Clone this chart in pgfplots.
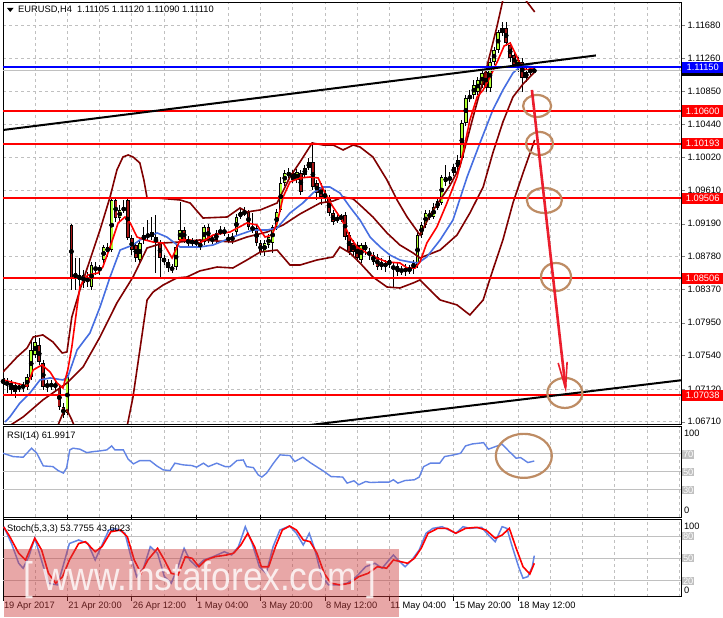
\documentclass[border=0pt]{standalone}
\usepackage{fontspec}
\setmainfont{Liberation Sans}
\usepackage{pgfplots}
\pgfplotsset{compat=1.18}
\usepackage{pgfplotstable}
\usetikzlibrary{arrows.meta}
\definecolor{bullc}{RGB}{173,255,47}
\definecolor{bearc}{RGB}{165,20,20}
\definecolor{mablue}{RGB}{70,110,225}
\definecolor{bbred}{RGB}{128,0,0}
\definecolor{gridc}{RGB}{192,192,192}
\definecolor{annot}{RGB}{190,140,100}
\definecolor{arrowred}{RGB}{235,30,45}
\definecolor{wmred}{RGB}{205,60,60}
\newcommand{\lblfont}{\fontsize{9.3}{10}\selectfont}

\pgfplotstableread{
i o h l c
0 1.07257 1.07294 1.07106 1.07169
1 1.07194 1.07257 1.07069 1.07181
2 1.07194 1.07232 1.07044 1.07106
3 1.07169 1.07206 1.07006 1.07081
4 1.07144 1.07194 1.07081 1.07131
5 1.07131 1.07206 1.07081 1.07169
6 1.07144 1.07307 1.07106 1.07269
7 1.07269 1.07733 1.07232 1.07607
8 1.07545 1.07795 1.07507 1.07708
9 1.07670 1.07758 1.07419 1.07457
10 1.07445 1.07482 1.07106 1.07144
11 1.07169 1.07232 1.07081 1.07156
12 1.07156 1.07232 1.07106 1.07181
13 1.07181 1.07232 1.07094 1.07144
14 1.07131 1.07169 1.06856 1.06893
15 1.06893 1.06943 1.06755 1.06793
16 1.06818 1.07294 1.06793 1.07269
17 1.09174 1.09186 1.08359 1.08510
18 1.08572 1.08760 1.08359 1.08510
19 1.08485 1.08760 1.08322 1.08547
20 1.08547 1.08610 1.08384 1.08447
21 1.08510 1.08585 1.08397 1.08459
22 1.08397 1.08710 1.08359 1.08672
23 1.08647 1.08710 1.08547 1.08610
24 1.08635 1.08672 1.08547 1.08610
25 1.08735 1.08923 1.08698 1.08898
26 1.08898 1.08948 1.08773 1.08835
27 1.08860 1.09512 1.08835 1.09487
28 1.09487 1.09512 1.09211 1.09261
29 1.09261 1.09424 1.09211 1.09362
30 1.09387 1.09487 1.09324 1.09362
31 1.09487 1.09525 1.08986 1.09011
32 1.09011 1.09048 1.08798 1.08860
33 1.08923 1.08961 1.08710 1.08760
34 1.08735 1.08986 1.08698 1.08948
35 1.08986 1.09149 1.08936 1.09048
36 1.09048 1.09236 1.08986 1.09036
37 1.09023 1.09274 1.08986 1.09086
38 1.09023 1.09299 1.08572 1.08948
39 1.08948 1.08986 1.08522 1.08760
40 1.08760 1.08798 1.08672 1.08710
41 1.08710 1.08748 1.08585 1.08635
42 1.08610 1.08685 1.08572 1.08647
43 1.08647 1.08923 1.08610 1.08898
44 1.08986 1.09462 1.08961 1.09111
45 1.09111 1.09149 1.08948 1.08986
46 1.08986 1.09036 1.08911 1.08948
47 1.08973 1.09011 1.08911 1.08948
48 1.08948 1.08998 1.08898 1.08961
49 1.08948 1.08986 1.08860 1.08898
50 1.08961 1.09174 1.08923 1.09149
51 1.09149 1.09186 1.08948 1.08986
52 1.08986 1.09036 1.08936 1.08998
53 1.08986 1.09111 1.08948 1.09074
54 1.09074 1.09161 1.09048 1.09111
55 1.09111 1.09149 1.09036 1.09074
56 1.09011 1.09061 1.08948 1.08986
57 1.08986 1.09074 1.08936 1.09023
58 1.09086 1.09312 1.09048 1.09274
59 1.09274 1.09374 1.09249 1.09337
60 1.09337 1.09399 1.09287 1.09324
61 1.09337 1.09362 1.09111 1.09149
62 1.09149 1.09324 1.09074 1.09111
63 1.09136 1.09174 1.08911 1.08948
64 1.08948 1.08986 1.08798 1.08835
65 1.08835 1.08986 1.08785 1.08948
66 1.08923 1.09061 1.08886 1.09023
67 1.08948 1.09174 1.08823 1.09149
68 1.09149 1.09374 1.09111 1.09337
69 1.09362 1.09775 1.09337 1.09700
70 1.09700 1.09863 1.09662 1.09825
71 1.09825 1.09888 1.09763 1.09800
72 1.09825 1.09863 1.09700 1.09738
73 1.09738 1.09875 1.09700 1.09838
74 1.09825 1.09863 1.09550 1.09587
75 1.09800 1.09925 1.09763 1.09888
76 1.09888 1.10013 1.09863 1.09963
77 1.09963 1.10214 1.09612 1.09650
78 1.09700 1.09738 1.09487 1.09575
79 1.09650 1.09700 1.09424 1.09525
80 1.09550 1.09612 1.09449 1.09537
81 1.09512 1.09550 1.09287 1.09324
82 1.09324 1.09362 1.09174 1.09211
83 1.09261 1.09312 1.09199 1.09236
84 1.09261 1.09312 1.09211 1.09274
85 1.09299 1.09337 1.08986 1.09023
86 1.09048 1.09086 1.08798 1.08835
87 1.08948 1.08986 1.08785 1.08835
88 1.08923 1.08961 1.08710 1.08760
89 1.08735 1.08948 1.08698 1.08923
90 1.08923 1.08961 1.08798 1.08860
91 1.08835 1.08886 1.08735 1.08798
92 1.08710 1.08835 1.08672 1.08798
93 1.08773 1.08810 1.08610 1.08647
94 1.08647 1.08760 1.08610 1.08710
95 1.08698 1.08735 1.08585 1.08647
96 1.08672 1.08785 1.08635 1.08735
97 1.08647 1.08710 1.08384 1.08635
98 1.08660 1.08710 1.08535 1.08585
99 1.08610 1.08660 1.08547 1.08597
100 1.08585 1.08685 1.08535 1.08635
101 1.08622 1.08672 1.08560 1.08610
102 1.08635 1.08735 1.08560 1.08698
103 1.08672 1.09111 1.08635 1.09048
104 1.09048 1.09211 1.09011 1.09174
105 1.09174 1.09362 1.09136 1.09324
106 1.09312 1.09362 1.09236 1.09274
107 1.09274 1.09449 1.09249 1.09399
108 1.09387 1.09512 1.09362 1.09474
109 1.09449 1.09800 1.09424 1.09775
110 1.09775 1.09925 1.09662 1.09712
111 1.09750 1.09838 1.09687 1.09763
112 1.09825 1.09938 1.09788 1.09900
113 1.09900 1.10051 1.09863 1.09988
114 1.10013 1.10489 1.09988 1.10452
115 1.10452 1.10803 1.10414 1.10765
116 1.10765 1.10865 1.10715 1.10790
117 1.10803 1.10991 1.10753 1.10928
118 1.10840 1.11028 1.10803 1.10991
119 1.10928 1.11116 1.10890 1.11078
120 1.11091 1.11141 1.10840 1.10890
121 1.10890 1.11266 1.10840 1.11216
122 1.11216 1.11404 1.11178 1.11366
123 1.11366 1.11617 1.11329 1.11592
124 1.11580 1.11717 1.11542 1.11642
125 1.11642 1.11717 1.11417 1.11454
126 1.11429 1.11467 1.11216 1.11266
127 1.11304 1.11341 1.11141 1.11178
128 1.11141 1.11279 1.11091 1.11241
129 1.11216 1.11266 1.10840 1.11016
130 1.11016 1.11141 1.10965 1.11091
131 1.11091 1.11153 1.11053 1.11116
132 1.11105 1.11120 1.11090 1.11110
}\candles

\pgfplotsset{
  mtbase/.style={
    scale only axis, width=678pt, anchor=south west,
    xmin=0, xmax=168.45,
    xtick={8,16,...,168}, xticklabels={}, xtick style={draw=none},
    axis line style={black, line width=0.9pt},
    grid style={gridc, line width=0.7pt, dash pattern=on 3pt off 3pt},
    tick label style={font=\lblfont},
    clip=true,
  },
  candlebar/.style={only marks, mark=none, forget plot,
    error bars/y dir=both, error bars/y explicit, error bars/error mark=none},
}

\begin{document}
\begin{tikzpicture}[x=1pt,y=1pt]
\path[use as bounding box] (0,0) rectangle (723,618);
\fill[white] (0,0) rectangle (723,618);

% ---------------- main price panel ----------------
\begin{axis}[mtbase, at={(3pt,194pt)}, height=422pt,
  ymin=1.06680, ymax=1.11968,
  xmajorgrids, ymajorgrids,
  ytick={1.06710,1.07120,1.07540,1.07950,1.08370,1.08780,1.09190,1.09610,1.10020,1.10440,1.10850,1.11260,1.11680},
  ytick pos=right, yticklabel pos=right, tick align=outside, major tick length=4pt,
  scaled y ticks=false,
  /pgf/number format/assume math mode=true,
  yticklabel style={/pgf/number format/fixed, /pgf/number format/fixed zerofill, /pgf/number format/precision=5, anchor=west, xshift=-1pt},
]
% wicks
\addplot[candlebar, error bars/error bar style={draw=black, line width=0.9pt}]
  table[x=i, y expr={(\thisrow{o}+\thisrow{c})/2},
        y error plus expr={\thisrow{h}-(\thisrow{o}+\thisrow{c})/2},
        y error minus expr={(\thisrow{o}+\thisrow{c})/2-\thisrow{l}}] {\candles};
% body outlines
\addplot[candlebar, error bars/error bar style={draw=black, line width=3.5pt}]
  table[x=i, y expr={(\thisrow{o}+\thisrow{c})/2},
        y error expr={max(abs(\thisrow{c}-\thisrow{o})/2,0.00007)}] {\candles};
% bull bodies
\addplot[candlebar, restrict expr to domain={\thisrow{c}-\thisrow{o}}{0:1},
  error bars/error bar style={draw=bullc, line width=1.8pt}]
  table[x=i, y expr={(\thisrow{o}+\thisrow{c})/2},
        y error expr={max(abs(\thisrow{c}-\thisrow{o})/2-0.00009,0)}] {\candles};
% bear bodies
\addplot[candlebar, restrict expr to domain={\thisrow{c}-\thisrow{o}}{-1:-0.000001},
  error bars/error bar style={draw=bearc, line width=1.8pt}]
  table[x=i, y expr={(\thisrow{o}+\thisrow{c})/2},
        y error expr={max(abs(\thisrow{c}-\thisrow{o})/2-0.00009,0)}] {\candles};

% Bollinger bands
\addplot[bbred, line width=1.6pt, mark=none] coordinates {(0,1.07332)(3.5,1.07520)(6,1.07633)(7.5,1.07770)(9.9,1.07796)(12.4,1.07708)(14.7,1.07570)(15.9,1.07583)(17.1,1.08021)(19.1,1.08359)(21.6,1.08735)(24.1,1.09111)(26.6,1.09525)(28.3,1.09863)(29.8,1.10026)(31.1,1.10051)(32.3,1.10026)(34,1.09951)(35,1.09738)(35.8,1.09512)(38.3,1.09512)(44,1.09487)(46.5,1.09449)(49.7,1.09261)(55.7,1.09274)(58.9,1.09387)(60.6,1.09337)(63.9,1.09362)(68.1,1.09449)(71.3,1.09775)(73.8,1.09963)(76.8,1.10201)(79.5,1.10176)(82,1.10176)(84.5,1.10114)(87,1.10176)(88.7,1.10151)(91.9,1.10026)(95.4,1.09738)(97.9,1.09487)(100.4,1.09274)(103.6,1.09048)(106.1,1.09299)(108.6,1.09487)(111.1,1.09675)(113.5,1.09901)(116.8,1.10527)(120.2,1.11153)(122.7,1.11655)(124.2,1.11993)(126,1.12181)(127.7,1.12181)(128.9,1.12056)(130.2,1.11968)(132.1,1.11843)};
\addplot[bbred, line width=1.6pt, mark=none] coordinates {(0,1.06605)(5,1.06768)(9.9,1.06981)(15.9,1.07194)(19.9,1.07395)(24.1,1.07771)(28.3,1.08197)(32.3,1.08522)(34,1.08698)(35.8,1.08886)(39.8,1.08948)(44,1.08961)(48.9,1.08986)(57.1,1.08961)(60.6,1.09023)(65.6,1.09086)(69.6,1.09174)(73.8,1.09312)(78.8,1.09449)(82,1.09474)(84.5,1.09525)(87,1.09500)(88.7,1.09424)(91.9,1.09274)(95.4,1.09074)(98.6,1.08923)(101.9,1.08823)(103.6,1.08760)(108.6,1.08860)(112.8,1.09048)(116,1.09324)(119.3,1.09650)(121.7,1.10076)(124.2,1.10464)(126.7,1.10778)(129.2,1.10940)(132.1,1.11091)};
\addplot[bbred, line width=1.6pt, mark=none] coordinates {(0,1.05828)(6.7,1.06104)(11.7,1.06354)(13.7,1.06668)(14.9,1.06818)(15.9,1.06856)(17.1,1.06731)(19.1,1.06480)(24.1,1.06418)(29.1,1.06580)(30.8,1.06643)(32.3,1.07019)(34,1.07607)(35.8,1.08234)(37.3,1.08334)(39.8,1.08422)(43.2,1.08510)(45.7,1.08522)(48.9,1.08598)(53.2,1.08647)(57.1,1.08635)(60.6,1.08735)(63.9,1.08835)(68.1,1.08860)(71.3,1.08672)(73.8,1.08672)(78,1.08735)(82,1.08773)(83.7,1.08898)(86.2,1.08823)(88.7,1.08698)(91.9,1.08522)(95.4,1.08397)(98.6,1.08384)(101.9,1.08447)(103.6,1.08485)(108.6,1.08234)(112.8,1.08172)(116,1.08046)(119.3,1.08234)(121.7,1.08610)(124.2,1.08986)(126.7,1.09449)(129.2,1.09825)(132.1,1.10239)};
% slow MA (blue)
\addplot[mablue, line width=1.6pt, mark=none] coordinates {(0.5,1.06705)(1.7,1.06768)(4.2,1.06943)(6.7,1.07069)(9.2,1.07232)(11.7,1.07257)(14.9,1.07232)(16.1,1.07269)(18.4,1.07607)(21.6,1.07821)(24.1,1.08146)(26.6,1.08522)(29.1,1.08860)(32.3,1.08923)(34,1.08986)(38.3,1.09074)(40.7,1.09023)(44,1.08898)(48.9,1.08898)(52.2,1.08923)(57.1,1.09023)(62.1,1.09111)(65.6,1.09111)(68.1,1.09136)(71.3,1.09324)(74.5,1.09449)(77,1.09575)(79.3,1.09650)(81.2,1.09650)(83.7,1.09575)(86.2,1.09399)(88.7,1.09236)(91.2,1.09023)(93.7,1.08898)(96.1,1.08798)(98.6,1.08735)(101.1,1.08710)(103.1,1.08698)(105.3,1.08773)(108.6,1.08986)(111.8,1.09236)(115.3,1.09775)(118.5,1.10201)(121.7,1.10615)(124.2,1.10865)(126.7,1.11078)(128.4,1.11153)(130.2,1.11178)(131.7,1.11191)};
% fast MA (red)
\addplot[red, line width=1.6pt, mark=none] coordinates {(0,1.07232)(3,1.07194)(6,1.07156)(7.5,1.07357)(9.7,1.07420)(11.7,1.07332)(13.4,1.07194)(14.9,1.07131)(16.1,1.07357)(17.1,1.07645)(18.4,1.08146)(19.1,1.08397)(20.4,1.08510)(21.1,1.08547)(23.6,1.08572)(24.8,1.08647)(26.6,1.08898)(28.6,1.09199)(30.3,1.09274)(31.6,1.09199)(33.3,1.09023)(35.3,1.08986)(37.3,1.08961)(39.8,1.08948)(42,1.08760)(44,1.08986)(46.5,1.08986)(48.9,1.08948)(52.2,1.09048)(56.4,1.09086)(60.6,1.09199)(63.1,1.09174)(65.1,1.09023)(66.8,1.09048)(68.1,1.09199)(69.6,1.09525)(71.3,1.09713)(73.8,1.09763)(76.3,1.09775)(78.3,1.09763)(80,1.09575)(82,1.09399)(84.2,1.09236)(86.2,1.09023)(88,1.08898)(90.4,1.08823)(92.9,1.08760)(95.4,1.08710)(98.6,1.08698)(100.4,1.08635)(102.4,1.08635)(103.6,1.08710)(105.3,1.08948)(107.8,1.09149)(110.3,1.09449)(112.8,1.09775)(114.3,1.10076)(116,1.10490)(117.8,1.10778)(119.3,1.10865)(121,1.11028)(123,1.11241)(124.5,1.11417)(126,1.11454)(127.7,1.11279)(128.9,1.11141)(130.2,1.11116)(131.4,1.11141)(132,1.11116)};

% horizontal levels
\addplot[gridc, line width=1pt, mark=none] coordinates {(0,1.11110)(168.45,1.11110)};
\addplot[blue, line width=2pt, mark=none] coordinates {(0,1.11150)(168.45,1.11150)};
\addplot[red, line width=2pt, mark=none] coordinates {(0,1.10600)(168.45,1.10600)};
\addplot[red, line width=2pt, mark=none] coordinates {(0,1.10193)(168.45,1.10193)};
\addplot[red, line width=2pt, mark=none] coordinates {(0,1.09506)(168.45,1.09506)};
\addplot[red, line width=2pt, mark=none] coordinates {(0,1.08506)(168.45,1.08506)};
\addplot[red, line width=2pt, mark=none] coordinates {(0,1.07038)(168.45,1.07038)};
% trend lines
\addplot[black, line width=2pt, mark=none] coordinates {(0,1.10364)(147.3,1.11298)};
\addplot[black, line width=2pt, mark=none] coordinates {(70,1.06629)(168.45,1.07228)};

% annotations
\draw[annot, line width=2.2pt] (axis cs:132.7,1.10665) ellipse [x radius=14pt, y radius=11pt];
\draw[annot, line width=2.2pt] (axis cs:133.3,1.10195) ellipse [x radius=13.5pt, y radius=11.5pt];
\draw[annot, line width=2.2pt] (axis cs:134.5,1.09481) ellipse [x radius=17.5pt, y radius=12.5pt];
\draw[annot, line width=2.2pt] (axis cs:137.4,1.08522) ellipse [x radius=15pt, y radius=14pt];
\draw[annot, line width=2.2pt] (axis cs:139.6,1.07069) ellipse [x radius=17.5pt, y radius=15pt];
\draw[arrowred, line width=2.6pt, -{Straight Barb[length=26pt, width=9pt, line width=1.6pt]}] (axis cs:131.4,1.10866) -- (axis cs:139.9,1.07069);

\coordinate (pK) at (axis cs:168.45,1.11110);
\coordinate (pB) at (axis cs:168.45,1.11150);
\coordinate (p1) at (axis cs:168.45,1.10600);
\coordinate (p2) at (axis cs:168.45,1.10193);
\coordinate (p3) at (axis cs:168.45,1.09506);
\coordinate (p4) at (axis cs:168.45,1.08506);
\coordinate (p5) at (axis cs:168.45,1.07038);
\end{axis}

% ---------------- RSI panel ----------------
\begin{axis}[mtbase, at={(3pt,101pt)}, height=90.3pt,
  ymin=0, ymax=100, ytick=\empty, xmajorgrids]
\addplot[gridc, line width=1pt, mark=none] coordinates {(0,70)(168.45,70)};
\addplot[gridc, line width=1pt, mark=none] coordinates {(0,50)(168.45,50)};
\addplot[gridc, line width=1pt, mark=none] coordinates {(0,30)(168.45,30)};
\addplot[mablue!85!white, line width=1.4pt, mark=none] coordinates {(0,70.6)(2.5,66.9)(5,66.2)(7.1,76.2)(8.4,70.6)(10,56.6)(12.4,55.8)(13.7,51.4)(15,48.6)(15.8,54.4)(16.6,74.3)(17.4,76.2)(19.1,75.1)(20.8,71.3)(22.4,72.4)(24.1,73.2)(25.8,74.3)(27,78.7)(27.8,74.3)(29.9,74.3)(31.1,64)(32.4,58.8)(34,62.5)(36.5,62.5)(38.2,56.6)(39.8,52.2)(41.5,51.4)(42.7,59.6)(44.8,57.7)(46.9,57)(48.1,55.2)(49.8,59.6)(51,55.8)(53.1,59.6)(55.2,55.8)(56.4,55.8)(58.1,62.5)(59.7,63.2)(60.5,55.8)(62.2,54.7)(63.4,46.7)(64.3,44.2)(65.5,48.6)(67.2,59.6)(68.8,68.8)(71.3,68)(72.5,61.4)(74.5,66.2)(76.3,60.3)(79.8,50.3)(81.5,44.8)(84.4,44.2)(85.5,37.5)(87.2,40.1)(88.4,35.7)(90.1,39.3)(91.3,38.2)(93.6,38.6)(95.9,38.6)(97,41.2)(98.1,37.5)(99.9,40.4)(102.2,41.2)(103.4,44.2)(104.5,55.8)(106.2,59.6)(108.5,59.6)(109.7,66.9)(112,68.8)(113.7,70.6)(114.9,78.7)(116.6,80.9)(119.4,82.3)(120.6,75.1)(122.3,77.9)(124,80.6)(125.8,72.4)(127.5,65.1)(128.6,65.8)(130.4,60.3)(132,62)};
\draw[annot, line width=2.2pt] (axis cs:129.4,67.7) ellipse [x radius=28pt, y radius=22pt];
\end{axis}

% ---------------- Stochastic panel ----------------
\begin{axis}[mtbase, at={(3pt,21.3pt)}, height=77.4pt,
  ymin=-1, ymax=102.3, ytick=\empty, xmajorgrids,
  extra x ticks={0,16,32,48,64,80,96,112,128},
  extra x tick labels={19 Apr 2017,21 Apr 20:00,26 Apr 12:00,1 May 04:00,3 May 20:00,8 May 12:00,11 May 04:00,15 May 20:00,18 May 12:00},
  extra x tick style={grid=none, xtick style={draw=black, line width=0.8pt}, tick align=outside, major tick length=4pt,
     xticklabel style={anchor=north west, xshift=-2.5pt, yshift=2pt}},
]
\addplot[gridc, line width=1pt, mark=none] coordinates {(0,80)(168.45,80)};
\addplot[gridc, line width=1pt, mark=none] coordinates {(0,50)(168.45,50)};
\addplot[gridc, line width=1pt, mark=none] coordinates {(0,20)(168.45,20)};
\addplot[mablue!85!white, line width=1.5pt, mark=none] coordinates {(0.2,92.4)(2.1,70.2)(3.9,43.6)(5,37)(6.4,52.4)(7.9,77)(11.3,17)(13.6,14.7)(16.5,70)(18.8,74.7)(21.1,70)(22.9,48)(26.3,88)(28,90)(30.3,83.6)(32,48)(33.2,25.8)(34.9,37)(36.6,65.8)(38.4,57)(40.1,25.8)(41.8,17)(43.5,39)(45,63.6)(46.4,48)(48.1,39)(49.9,48)(52.2,52.4)(55,59)(56.8,54.7)(58.5,65.8)(60.2,92.4)(61.9,70.2)(63.7,39)(65.4,30.2)(67.1,65.8)(68.8,88)(71.2,93.3)(72.9,83.6)(74.6,68)(76.1,83.6)(77.5,61.3)(79.2,25.8)(80.9,14.7)(83.2,14.7)(85.5,17)(87.8,25.8)(90.1,39)(92.4,43.6)(94.2,37)(95.9,48)(97,54.7)(98.1,48)(99.9,39)(101.6,48)(103.4,61.3)(105.1,83.6)(106.8,90.2)(109.1,92.4)(110.8,88)(112.5,83.6)(114.3,92.4)(116,90.2)(118.9,91.6)(120.6,81.3)(122.3,72.4)(124,92.4)(125.2,90.2)(126.4,68)(128.1,39)(129.2,23.6)(130.4,25.8)(131.5,39)(132,53.8)};
\addplot[red, line width=1.6pt, mark=none] coordinates {(0.2,92)(1.6,80)(3.9,57)(5.6,48)(7.9,77)(9.6,61.3)(11.3,30.2)(13.1,17)(14.8,25.8)(16.5,48)(18.8,70)(20.5,72.4)(22.9,59)(24.6,65.8)(26.8,85.7)(29.2,88)(30.9,79)(32.6,48)(34.3,30.2)(36,48)(38.4,63.6)(40.1,48)(41.8,30.2)(43.5,28)(45.3,52.4)(47,50.2)(48.7,39)(50.4,48)(52.7,52.4)(55.6,54.7)(57.3,57)(59.1,68)(60.8,83.6)(62.5,65.8)(64.2,39)(66,39)(67.7,65.8)(69.4,88)(71.2,93.3)(72.9,88)(74.6,74.7)(76.3,72.4)(78,57)(79.8,30.2)(81.5,17)(83.8,14.7)(86.1,17)(88.4,25.8)(90.7,30.2)(93,39)(95.3,37)(97,48)(98.8,45.8)(100.5,43.6)(102.2,50.2)(103.9,63.6)(105.6,83.6)(108,90.2)(110.3,90.2)(112.5,83.6)(114.9,90.2)(117.7,91.6)(120,88)(122.3,77)(124,81.3)(125.8,90.2)(127.5,63.6)(129.2,39)(130.9,29.3)(132,43.6)};
\end{axis}

% ---------------- price boxes on the right ----------------
\begin{scope}[every node/.style={font=\lblfont, inner sep=0pt, minimum width=41pt, minimum height=11.5pt, anchor=west, text=white}]
\node[fill=black] at ([xshift=1pt]pK) {1.11110};
\node[fill=blue] at ([xshift=1pt]pB) {1.11150};
\node[fill=red] at ([xshift=1pt]p1) {1.10600};
\node[fill=red] at ([xshift=1pt]p2) {1.10193};
\node[fill=red] at ([xshift=1pt]p3) {1.09506};
\node[fill=red] at ([xshift=1pt]p4) {1.08506};
\node[fill=red] at ([xshift=1pt]p5) {1.07038};
\end{scope}

% indicator scale labels
\begin{scope}[every node/.style={font=\lblfont, inner sep=0.8pt, anchor=west}]
\node at (683,185) {100};
\node[fill=gridc, text=white] at (682,163.5) {70};
\node[fill=gridc, text=white] at (682,145.7) {50};
\node[fill=gridc, text=white] at (682,127.7) {30};
\node at (683,108) {0};
\node at (683,92) {100};
\node[fill=gridc, text=white] at (682,82) {80};
\node[fill=gridc, text=white] at (682,59.7) {50};
\node[fill=gridc, text=white] at (682,37) {20};
\node at (683,27.3) {0};
\end{scope}

% titles
\fill[black] (7,610) -- (13.5,610) -- (10.25,606) -- cycle;
\node[font=\lblfont, anchor=west, inner sep=0pt] at (18,607.8) {EURUSD,H4\ \ 1.11105 1.11120 1.11090 1.11110};
\node[font=\lblfont, anchor=west, inner sep=0pt] at (7,182) {RSI(14) 61.9917};
\node[font=\lblfont, anchor=west, inner sep=0pt] at (7,89) {Stoch(5,3,3) 53.7755 43.6023};

% watermark
\fill[wmred, opacity=0.45] (3.7,1) rectangle (399,69);
\node[text=white, opacity=0.8, font=\fontsize{40}{40}\selectfont, xscale=0.88, inner sep=0pt] at (200,38) {[ www.instaforex.com ]};
\end{tikzpicture}
\end{document}
